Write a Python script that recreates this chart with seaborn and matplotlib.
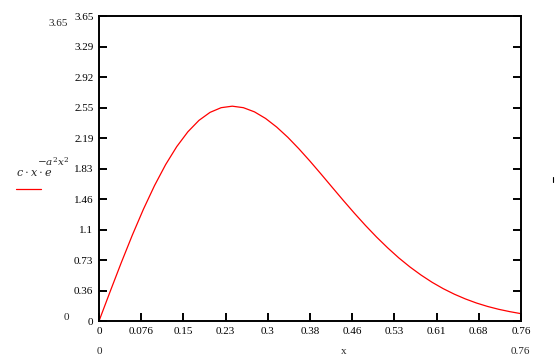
import numpy as np
import pandas as pd
import matplotlib
matplotlib.use("Agg")
import matplotlib.pyplot as plt
import seaborn as sns
from matplotlib.lines import Line2D

x_vals = [0.00, 0.02, 0.04, 0.06, 0.08, 0.10, 0.12, 0.14, 0.16, 0.18,
          0.20, 0.22, 0.24, 0.26, 0.28, 0.30, 0.32, 0.34, 0.36, 0.38,
          0.40, 0.42, 0.44, 0.46, 0.48, 0.50, 0.52, 0.54, 0.56, 0.58,
          0.60, 0.62, 0.64, 0.66, 0.68, 0.70, 0.72, 0.74, 0.76]
y_vals = [0.000, 0.352, 0.697, 1.028, 1.338, 1.621, 1.872, 2.087, 2.264, 2.401,
          2.497, 2.553, 2.571, 2.553, 2.503, 2.424, 2.321, 2.199, 2.061, 1.913,
          1.758, 1.600, 1.443, 1.290, 1.143, 1.004, 0.875, 0.755, 0.647, 0.550,
          0.463, 0.387, 0.321, 0.264, 0.215, 0.174, 0.140, 0.112, 0.088]

x_ticks = [0, 0.076, 0.152, 0.228, 0.304, 0.38, 0.456, 0.532, 0.608, 0.684, 0.76]
x_tick_labels = ["0", "0.076", "0.15", "0.23", "0.3", "0.38", "0.46", "0.53", "0.61", "0.68", "0.76"]
y_ticks = [0, 0.365, 0.73, 1.095, 1.46, 1.825, 2.19, 2.555, 2.92, 3.285, 3.65]
y_tick_labels = ["0", "0.36", "0.73", "1.1", "1.46", "1.83", "2.19", "2.55", "2.92", "3.29", "3.65"]

df = pd.DataFrame({"x": x_vals, "y": y_vals})

sns.set_style("white")
plt.rcParams["font.family"] = ["Liberation Serif", "DejaVu Serif"]
plt.rcParams["mathtext.fontset"] = "dejavuserif"

fig = plt.figure(figsize=(5.55, 3.59), dpi=100)
ax = fig.add_axes([0.1784, 0.1058, 0.7603, 0.8496])

sns.lineplot(data=df, x="x", y="y", color="#ff0000", linewidth=0.9, ax=ax)

ax.set_xlim(0, 0.76)
ax.set_ylim(0, 3.65)
ax.set_xticks(x_ticks)
ax.set_xticklabels(x_tick_labels)
ax.set_yticks(y_ticks)
ax.set_yticklabels(y_tick_labels)
ax.set_xlabel("")
ax.set_ylabel("")

for s in ax.spines.values():
    s.set_visible(True)
    s.set_color("black")
    s.set_linewidth(1.4)

ax.tick_params(axis="both", direction="in", length=5.5, width=1.4, labelsize=8,
               colors="black", pad=4)
ax.tick_params(axis="y", right=True, left=True)
ax.tick_params(axis="x", bottom=True, top=False)

# axis-limit labels and variable name, as in the reference
fig.text(58 / 555, 1 - 24 / 359, "3.65", fontsize=8, ha="center", va="center")
fig.text(66 / 555, 1 - 318 / 359, "0", fontsize=8, ha="center", va="center")
fig.text(99 / 555, 1 - 351 / 359, "0", fontsize=8, ha="center", va="center")
fig.text(520 / 555, 1 - 351 / 359, "0.76", fontsize=8, ha="center", va="center")
fig.text(344 / 555, 1 - 352 / 359, "x", fontsize=8, ha="center", va="center")

# y-axis expression label with its legend line
fig.text(16 / 555, 1 - 173 / 359, r"$c\cdot x\cdot e$", fontsize=8,
         ha="left", va="center")
fig.text(69 / 555, 1 - 162 / 359, r"$-a^2 x^2$", fontsize=7.5,
         ha="right", va="center")
fig.add_artist(Line2D([16 / 555, 41 / 555], [1 - 189 / 359, 1 - 189 / 359],
                      color="#ff0000", linewidth=0.9, transform=fig.transFigure))
fig.add_artist(Line2D([553 / 555, 553 / 555], [1 - 177 / 359, 1 - 182 / 359],
                      color="black", linewidth=0.8, transform=fig.transFigure))

fig.savefig("out.png", dpi=100)
